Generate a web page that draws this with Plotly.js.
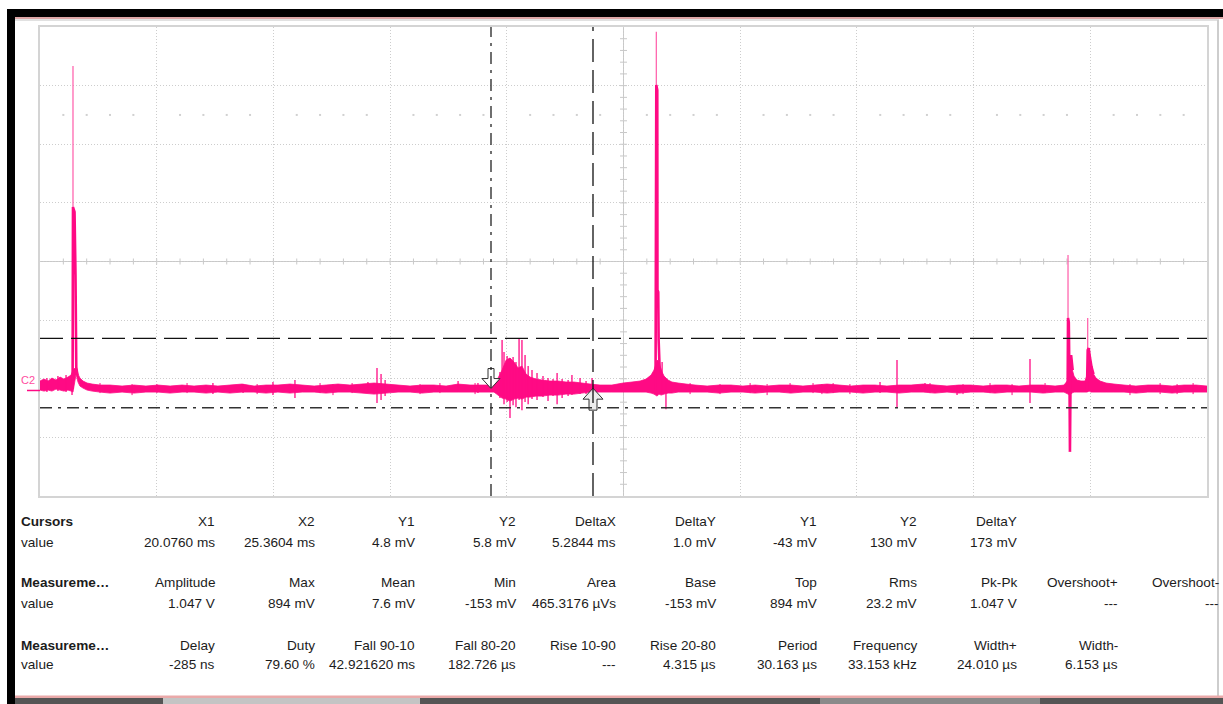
<!DOCTYPE html>
<html><head><meta charset="utf-8">
<script src="https://cdn.plot.ly/plotly-3.0.1.min.js"></script>
<style>html,body{margin:0;padding:0;background:#fff;overflow:hidden}#chart{width:1223px;height:704px}</style>
</head><body><div id="chart"></div>
<script>
// ===== DATA (time in ms, voltage in mV) =====
// axis window of the scope screen
const xRange = [-3.289, 57.17];
const yRange = [-263, 906];

// noise band of channel C2: upper / lower envelope
const envTime = [-3.29,-3.08,-2.87,-2.67,-2.46,-2.25,-2.05,-1.84,-1.68,-1.58,-1.42,-1.37,-1.32,-1.22,-1.06,-0.85,-0.59,-0.18,0.34,0.96,1.58,2.20,2.82,3.45,4.07,4.69,5.31,5.93,6.55,7.18,7.80,8.42,9.04,9.66,10.29,10.91,11.53,12.15,12.77,13.39,14.02,14.64,15.26,15.88,16.50,17.12,17.75,18.37,18.99,19.61,20.23,20.44,20.65,20.86,21.06,21.27,21.48,21.68,21.89,22.10,22.41,22.72,23.13,23.55,23.96,24.38,24.79,25.21,25.72,26.34,26.92,27.38,27.80,28.11,28.37,28.52,28.68,28.78,28.89,29.04,29.25,29.45,29.77,30.18,30.65,31.27,31.89,32.51,33.13,33.76,34.38,35.00,35.62,36.24,36.86,37.49,38.11,38.73,39.35,39.97,40.59,41.21,41.84,42.46,43.08,43.70,44.32,44.94,45.57,46.19,46.81,47.43,48.05,48.67,49.30,49.76,49.97,50.07,50.17,50.28,50.43,50.64,50.85,50.95,51.06,51.16,51.26,51.42,51.63,51.94,52.35,52.87,53.49,54.11,54.74,55.36,55.98,56.60,57.17];
const envHigh = [23.5,28.4,23.5,30.9,26.0,33.4,28.4,33.4,38.4,50.9,58.3,50.9,40.9,30.9,23.5,18.5,16.0,13.5,13.5,11.0,13.5,11.0,13.5,11.0,13.5,11.0,13.5,11.0,13.5,16.0,11.0,13.5,13.5,16.0,13.5,11.0,13.5,16.0,13.5,16.0,18.5,16.0,13.5,11.0,13.5,13.5,11.0,16.0,13.5,13.5,13.5,30.9,50.9,75.8,80.8,70.8,55.9,60.8,40.9,33.4,28.4,26.0,23.5,23.5,21.0,21.0,18.5,16.0,13.5,13.5,18.5,21.0,23.5,28.4,38.4,50.9,75.8,70.8,50.9,35.9,26.0,21.0,18.5,16.0,13.5,11.0,13.5,13.5,11.0,13.5,11.0,13.5,13.5,11.0,13.5,16.0,13.5,11.0,13.5,13.5,11.0,13.5,13.5,16.0,13.5,11.0,13.5,13.5,11.0,13.5,13.5,11.0,13.5,13.5,11.0,13.5,26.0,88.3,55.9,35.9,26.0,23.5,23.5,38.4,95.7,63.4,43.4,30.9,23.5,18.5,16.0,13.5,11.0,13.5,13.5,11.0,13.5,13.5,11.0];
const envLow = [1.0,-1.5,1.0,-1.5,3.5,1.0,-1.5,1.0,-1.5,-4.0,40.9,30.9,21.0,11.0,6.0,1.0,-1.5,-4.0,-6.5,-4.0,-6.5,-4.0,-4.0,-6.5,-4.0,-4.0,-6.5,-4.0,-6.5,-4.0,-4.0,-6.5,-4.0,-6.5,-4.0,-4.0,-6.5,-4.0,-4.0,-6.5,-9.0,-6.5,-4.0,-4.0,-6.5,-4.0,-4.0,-4.0,-4.0,-4.0,-4.0,-11.5,-19.0,-21.5,-26.5,-21.5,-19.0,-21.5,-16.5,-16.5,-14.0,-14.0,-11.5,-11.5,-9.0,-9.0,-6.5,-4.0,-4.0,-4.0,-4.0,-4.0,-4.0,-4.0,-6.5,-9.0,-14.0,-9.0,-11.5,-9.0,-6.5,-6.5,-4.0,-4.0,-4.0,-4.0,-6.5,-4.0,-4.0,-6.5,-4.0,-4.0,-6.5,-4.0,-4.0,-6.5,-4.0,-4.0,-6.5,-4.0,-4.0,-6.5,-4.0,-4.0,-6.5,-4.0,-6.5,-4.0,-4.0,-6.5,-4.0,-4.0,-4.0,-6.5,-4.0,-4.0,-9.0,-11.5,-6.5,-4.0,-4.0,-4.0,-4.0,-4.0,-1.5,-4.0,-4.0,-4.0,-4.0,-4.0,-4.0,-4.0,-6.5,-4.0,-4.0,-6.5,-4.0,-4.0,-4.0];

// glitches (short vertical excursions)
const glitchTime = [-2.93,-2.36,-1.94,-1.63,5.67,7.23,8.78,9.92,13.70,14.17,14.38,14.59,18.37,19.40,20.54,20.65,20.75,20.91,21.06,21.22,21.37,21.53,21.68,21.84,22.00,22.20,22.46,22.77,23.03,23.29,23.50,23.76,24.07,24.27,24.69,25.00,25.31,28.94,29.14,40.23,41.11,42.56,44.22,48.00];
const glitchHigh = [30.9,35.9,38.4,30.9,18.5,16.0,21.0,26.0,21.0,55.9,40.9,26.0,23.5,18.5,45.9,125.7,95.7,85.8,80.8,83.3,70.8,130.7,125.7,88.3,60.8,50.9,43.4,35.9,30.9,28.4,43.4,28.4,26.0,38.4,30.9,23.5,30.9,70.8,26.0,21.0,75.8,18.5,13.5,78.3];
const glitchLow = [-4.0,-1.5,-4.0,-11.5,-9.0,-6.5,-11.5,-19.0,-4.0,-31.5,-24.0,-14.0,-4.0,-6.5,-19.0,-14.0,-34.0,-29.0,-68.8,-36.5,-41.5,-24.0,-49.0,-29.0,-34.0,-21.5,-24.0,-16.5,-26.5,-14.0,-34.0,-19.0,-14.0,-11.5,-9.0,-9.0,-4.0,-4.0,-46.5,-6.5,-41.5,-1.5,-11.5,-31.5];

// small hairs on the band edges
const hairTime = [-0.18,1.48,2.77,4.33,7.96,11.22,11.89,12.88,16.40,17.43,19.25,30.39,31.94,33.50,34.38,35.57,36.76,37.22,37.80,38.67,42.82,44.53,45.93,47.07,48.78,53.18,54.74,55.62,56.45];
const hairHigh = [18.5,16.0,16.0,18.5,16.0,18.5,16.0,18.5,16.0,18.5,18.5,18.5,16.0,18.5,16.0,18.5,18.5,16.0,18.5,16.0,18.5,16.0,18.5,16.0,18.5,16.0,18.5,16.0,18.5];
const hairLow = [-6.5,-11.5,-6.5,-6.5,-9.0,-6.5,-11.5,-6.5,-9.0,-6.5,-9.0,-9.0,-9.0,-6.5,-11.5,-6.5,-6.5,-9.0,-6.5,-9.0,-6.5,-9.0,-6.5,-11.5,-6.5,-11.5,-9.0,-9.0,-9.0];

// the four pulses (dense part)
const pulse1Time = [-1.60,-1.58,-1.50,-1.45,-1.41,-1.35];
const pulse1Volt = [3.5,457.2,444.8,287.9,58.3,38.4];
const pulse2Time = [28.60,28.64,28.69,28.70,28.74,28.76,28.81,28.88];
const pulse2Volt = [1.0,761.4,748.9,250.3,245.3,125.7,58.3,45.9];
const pulse3Time = [49.95,49.97,50.01,50.05,50.07,50.10,50.13,50.21];
const pulse3Volt = [-4.0,180.5,170.5,1.0,-153,26.0,88.3,50.9];
const pulse4Time = [50.95,50.99,51.04,51.11,51.19,51.29];
const pulse4Volt = [-4.0,100.7,105.7,80.8,58.3,40.9];

// sparse peak tips of the pulses
const tipTime = [-1.58,28.64,49.97,50.99];
const tipLow = [457.2,761.4,180.5,100.7];
const tipHigh = [808.8,894,337.6,180.5];

// cursors
const cursorX = [20.0760, 25.3604];
const cursorXLevel = [4.8, 5.8];
const cursorY = [-43, 130];

// readout table
const cursorHeaders = ['X1','X2','Y1','Y2','DeltaX','DeltaY','Y1','Y2','DeltaY'];
const cursorValues = ['20.0760 ms','25.3604 ms','4.8 mV','5.8 mV','5.2844 ms','1.0 mV','-43 mV','130 mV','173 mV'];
const meas1Headers = ['Amplitude','Max','Mean','Min','Area','Base','Top','Rms','Pk-Pk','Overshoot+','Overshoot-'];
const meas1Values = ['1.047 V','894 mV','7.6 mV','-153 mV','465.3176 µVs','-153 mV','894 mV','23.2 mV','1.047 V','---','---'];
const meas2Headers = ['Delay','Duty','Fall 90-10','Fall 80-20','Rise 10-90','Rise 20-80','Period','Frequency','Width+','Width-'];
const meas2Values = ['-285 ns','79.60 %','42.921620 ms','182.726 µs','---','4.315 µs','30.163 µs','33.153 kHz','24.010 µs','6.153 µs'];
const rowLabels = ['Cursors','value','Measureme…','value','Measureme…','value'];

// ===== DRAWING =====
const PINK = '#ff0a84';
const TIP = '#ff5aa8';
function segs(t, lo, hi) {
  const x = [], y = [];
  t.forEach((v, i) => { x.push(v, v, null); y.push(lo[i], hi[i], null); });
  return {x, y};
}
function joinLines(list) {
  const x = [], y = [];
  list.forEach(([t, v]) => { x.push(...t, null); y.push(...v, null); });
  return {x, y};
}
const band = {x: envTime.concat(envTime.slice().reverse()), y: envHigh.concat(envLow.slice().reverse())};
const g = segs(glitchTime, glitchLow, glitchHigh);
const h = segs(hairTime, hairLow, hairHigh);
const p = joinLines([[pulse1Time, pulse1Volt],[pulse2Time, pulse2Volt],[pulse3Time, pulse3Volt],[pulse4Time, pulse4Volt]]);
const tp = segs(tipTime, tipLow, tipHigh);

const traces = [
  {x: band.x, y: band.y, mode: 'lines', fill: 'toself', fillcolor: PINK, line: {color: PINK, width: 0.8, simplify: false}, hoverinfo: 'skip'},
  {x: h.x, y: h.y, mode: 'lines', line: {color: PINK, width: 1, simplify: false}, connectgaps: false, hoverinfo: 'skip'},
  {x: g.x, y: g.y, mode: 'lines', line: {color: PINK, width: 1.3, simplify: false}, connectgaps: false, hoverinfo: 'skip'},
  {x: tp.x, y: tp.y, mode: 'lines', line: {color: TIP, width: 1.2, simplify: false}, connectgaps: false, hoverinfo: 'skip'},
  {x: p.x, y: p.y, mode: 'lines', line: {color: PINK, width: 2.6, simplify: false}, connectgaps: false, hoverinfo: 'skip'}
];

// pixel helpers for the decoration around the plot area (plot area: x 40..1207, y 27..496)
const PX = x => (x - 40) / 1167;
const PY = y => (496 - y) / 469;
const shapes = [];
function rectPx(x0, y0, x1, y1, color) {
  shapes.push({type: 'rect', xref: 'paper', yref: 'paper', x0: PX(x0), x1: PX(x1), y0: PY(y1), y1: PY(y0), fillcolor: color, line: {width: 0}, layer: 'above'});
}
const GRIDC = '#c8c8c8';
// centre cross with fine ticks
shapes.push({type: 'line', xref: 'paper', yref: 'paper', x0: 0, x1: 1, y0: 0.5, y1: 0.5, line: {color: GRIDC, width: 1}, layer: 'below'});
shapes.push({type: 'line', xref: 'paper', yref: 'paper', x0: 0.5, x1: 0.5, y0: 0, y1: 1, line: {color: GRIDC, width: 1}, layer: 'below'});
for (let k = 1; k < 50; k++) shapes.push({type: 'line', xref: 'paper', yref: 'paper', x0: k / 50, x1: k / 50, ysizemode: 'pixel', yanchor: 0.5, y0: -3, y1: 3, line: {color: GRIDC, width: 1}, layer: 'below'});
for (let k = 1; k < 40; k++) shapes.push({type: 'line', xref: 'paper', yref: 'paper', xsizemode: 'pixel', xanchor: 0.5, x0: -3.5, x1: 3.5, y0: k / 40, y1: k / 40, line: {color: GRIDC, width: 1}, layer: 'below'});
for (let k = 1; k < 50; k++) if (k % 5) shapes.push({type: 'rect', xref: 'paper', yref: 'paper', xsizemode: 'pixel', ysizemode: 'pixel', xanchor: k / 50, yanchor: 6.5 / 8, x0: -1, x1: 1, y0: -1, y1: 1, fillcolor: '#d0d0d0', line: {width: 0}, layer: 'below'});

// cursor arrows
shapes.push({type: 'path', xref: 'x', yref: 'y', xsizemode: 'pixel', ysizemode: 'pixel', xanchor: cursorX[0], yanchor: cursorXLevel[0],
  path: 'M0,0 L-9,10 L-3,10 L-3,20 L3,20 L3,10 L9,10 Z', fillcolor: 'rgba(255,255,255,0.9)', line: {color: '#333', width: 1}, layer: 'above'});
shapes.push({type: 'path', xref: 'x', yref: 'y', xsizemode: 'pixel', ysizemode: 'pixel', xanchor: cursorX[1], yanchor: cursorXLevel[1],
  path: 'M0,0 L-10,-11 L-4,-11 L-4,-22 L4,-22 L4,-11 L10,-11 Z', fillcolor: 'rgba(235,235,235,0.9)', line: {color: '#333', width: 1}, layer: 'above'});
// cursor lines
const DASHDOT = '12px,6px,3px,6px';
const LONGDASH = '23px,8px';
shapes.push({type: 'line', xref: 'x', yref: 'paper', x0: cursorX[0], x1: cursorX[0], y0: 0, y1: 1, line: {color: '#222', width: 1.3, dash: DASHDOT}, layer: 'above'});
shapes.push({type: 'line', xref: 'x', yref: 'paper', x0: cursorX[1], x1: cursorX[1], y0: 0, y1: 1, line: {color: '#111', width: 1.3, dash: LONGDASH}, layer: 'above'});
shapes.push({type: 'line', xref: 'paper', yref: 'y', x0: 0, x1: 1, y0: cursorY[0], y1: cursorY[0], line: {color: '#333', width: 1.3, dash: DASHDOT}, layer: 'above'});
shapes.push({type: 'line', xref: 'paper', yref: 'y', x0: 0, x1: 1, y0: cursorY[1], y1: cursorY[1], line: {color: '#111', width: 1.3, dash: LONGDASH}, layer: 'above'});

// channel ground marker
const zeroPaper = (0 - yRange[0]) / (yRange[1] - yRange[0]);
shapes.push({type: 'line', xref: 'paper', yref: 'paper', x0: PX(27), x1: PX(40), y0: zeroPaper, y1: zeroPaper, line: {color: PINK, width: 1.5}, layer: 'above'});

// window frame
rectPx(7, 9, 1223, 17, '#000000');
rectPx(7, 9, 15, 704, '#000000');
rectPx(15, 17, 1223, 19, '#dca6a6');
rectPx(15, 19.5, 1219, 20.5, '#c4c4c4');
rectPx(1217, 20, 1219, 697, '#cdcdcd');
rectPx(15, 695.5, 1223, 698, '#eaa9a9');
rectPx(15, 698, 1223, 704, '#555555');
rectPx(163, 698, 420, 704, '#c4c4c4');
rectPx(820, 698, 1040, 704, '#8a8a8a');

// readout annotations
const annotations = [];
const TXT = {family: 'Liberation Sans, Arial, sans-serif', size: 13.6, color: '#1c1c1c'};
function label(text, px, py, anchor) {
  annotations.push({xref: 'paper', yref: 'paper', x: PX(px), y: PY(py), xanchor: anchor, yanchor: 'middle', text: text, showarrow: false, font: TXT, borderpad: 0});
}
const colRight = [216, 316, 416, 517, 617, 717, 818, 918, 1018, 1119, 1220];
const rowY = [521, 542, 582, 603, 645, 665];
rowLabels.forEach((t, i) => label(i % 2 === 0 ? '<b>' + t + '</b>' : t, 20, rowY[i], 'left'));
cursorHeaders.forEach((t, i) => label(t, colRight[i], rowY[0], 'right'));
cursorValues.forEach((t, i) => label(t, colRight[i], rowY[1], 'right'));
meas1Headers.forEach((t, i) => label(t, colRight[i], rowY[2], 'right'));
meas1Values.forEach((t, i) => label(t, colRight[i], rowY[3], 'right'));
meas2Headers.forEach((t, i) => label(t, colRight[i], rowY[4], 'right'));
meas2Values.forEach((t, i) => label(t, colRight[i], rowY[5], 'right'));
annotations.push({xref: 'paper', yref: 'paper', x: PX(28), y: zeroPaper, yshift: 10, xanchor: 'center', yanchor: 'middle', text: 'C2', showarrow: false, font: {family: 'Liberation Sans, Arial, sans-serif', size: 11, color: '#ff4da0'}, borderpad: 0});

const axisBase = {showgrid: true, gridcolor: '#cdcdcd', griddash: '1px,2px', gridwidth: 1, zeroline: false, showticklabels: false, ticks: '', showline: true, mirror: true, linecolor: '#d4d4d4', linewidth: 2, fixedrange: true};
const layout = {
  width: 1223, height: 704,
  margin: {l: 40, r: 16, t: 27, b: 208, pad: 0},
  paper_bgcolor: '#ffffff', plot_bgcolor: '#ffffff',
  showlegend: false,
  xaxis: Object.assign({}, axisBase, {range: xRange, tick0: xRange[0], dtick: (xRange[1] - xRange[0]) / 10}),
  yaxis: Object.assign({}, axisBase, {range: yRange, tick0: yRange[0], dtick: (yRange[1] - yRange[0]) / 8}),
  shapes: shapes,
  annotations: annotations
};
Plotly.newPlot('chart', traces, layout, {staticPlot: true, displayModeBar: false});
</script>
</body></html>
